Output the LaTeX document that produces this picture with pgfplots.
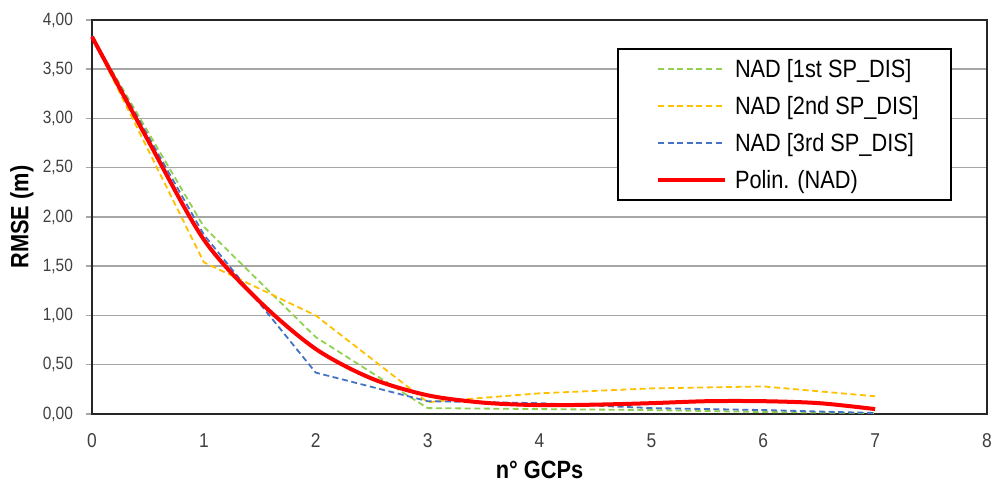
\documentclass[border=0pt]{standalone}
\usepackage{pgfplots}
\pgfplotsset{compat=1.18}
\usepackage{fontspec}
\setmainfont{Liberation Sans}[FakeStretch=0.87]
\definecolor{cgreen}{HTML}{92D050}
\definecolor{cyellow}{HTML}{FFC000}
\definecolor{cblue}{HTML}{4472C4}
\definecolor{cred}{HTML}{FF0000}
\definecolor{gridgray}{HTML}{A6A6A6}
\definecolor{tickgray}{HTML}{404040}
\begin{document}
\begin{tikzpicture}
\begin{axis}[
  name=ax,
  scale only axis,
  width=447.5pt, height=197pt,
  xmin=0, xmax=8, ymin=0, ymax=4,
  xtick={0,1,...,8},
  ytick={0,0.5,...,4},
  ymajorgrids, grid style={gridgray, line width=0.75pt},
  axis line style={black!85, line width=1pt},
  tick style={gridgray, line width=0.75pt},
  major tick length=3pt,
  xtick style={draw=none},
  ytick pos=left, tick align=outside,
  /pgf/number format/assume math mode=true,
  yticklabel style={/pgf/number format/.cd, fixed, fixed zerofill, precision=2, use comma, /tikz/.cd,
     font=\fontsize{8.9}{10}\selectfont, text=tickgray, xshift=-3pt},
  xticklabel style={font=\fontsize{10}{12}\selectfont, text=tickgray, yshift=-3.2pt},
  xlabel={\textbf{n° GCPs}},
  ylabel={\textbf{RMSE (m)}},
  label style={font=\fontsize{12.5}{14}\selectfont},
  xlabel style={at={(axis description cs:0.5,0)}, anchor=base, yshift=-32.5pt},
  ylabel style={at={(axis description cs:0,0.5)}, anchor=center, yshift=35pt},
  legend style={at={(rel axis cs:0.5866,0.9289)}, anchor=north west, draw=black, line width=1pt,
    font=\fontsize{12.5}{14}\selectfont, inner xsep=16pt, inner ysep=2pt, row sep=2.5pt,
    nodes={inner xsep=0pt, inner ysep=0pt, text height=12pt, text depth=4pt}},
  legend cell align=left,
  legend image code/.code={\path (-3pt,0pt); \draw[#1] (0pt,0pt) -- (33.5pt,0pt); \path (37.5pt,0pt);},
  clip=false,
]
\addplot[cgreen, dash pattern=on 3pt off 1.8pt, line width=0.9pt] coordinates {(0,3.83) (1,1.9) (2,0.78) (3,0.06) (4,0.05) (5,0.04) (6,0.02) (7,0.01)};
\addlegendentry{NAD [1st SP\_DIS]}
\addplot[cyellow, dash pattern=on 3pt off 1.8pt, line width=0.9pt] coordinates {(0,3.83) (1,1.54) (2,1.00) (3,0.12) (4,0.21) (5,0.26) (6,0.28) (7,0.18)};
\addlegendentry{NAD [2nd SP\_DIS]}
\addplot[cblue, dash pattern=on 3pt off 1.8pt, line width=0.9pt] coordinates {(0,3.83) (1,1.82) (2,0.42) (3,0.13) (4,0.11) (5,0.06) (6,0.04) (7,0.01)};
\addlegendentry{NAD [3rd SP\_DIS]}
\addplot[cred, line width=2pt, smooth] coordinates {(0,3.83) (0.5,2.78) (1,1.77) (1.5,1.14) (2,0.66) (2.5,0.36) (3,0.19) (3.5,0.115) (4,0.09) (4.5,0.095) (5,0.11) (5.5,0.13) (6,0.13) (6.5,0.11) (7,0.05)};
\addlegendentry{Polin. (NAD)}
\end{axis}
\pgfresetboundingbox
\path (ax.south west) ++(-46pt,-36pt) rectangle +(500pt,243pt);
\end{tikzpicture}
\end{document}
